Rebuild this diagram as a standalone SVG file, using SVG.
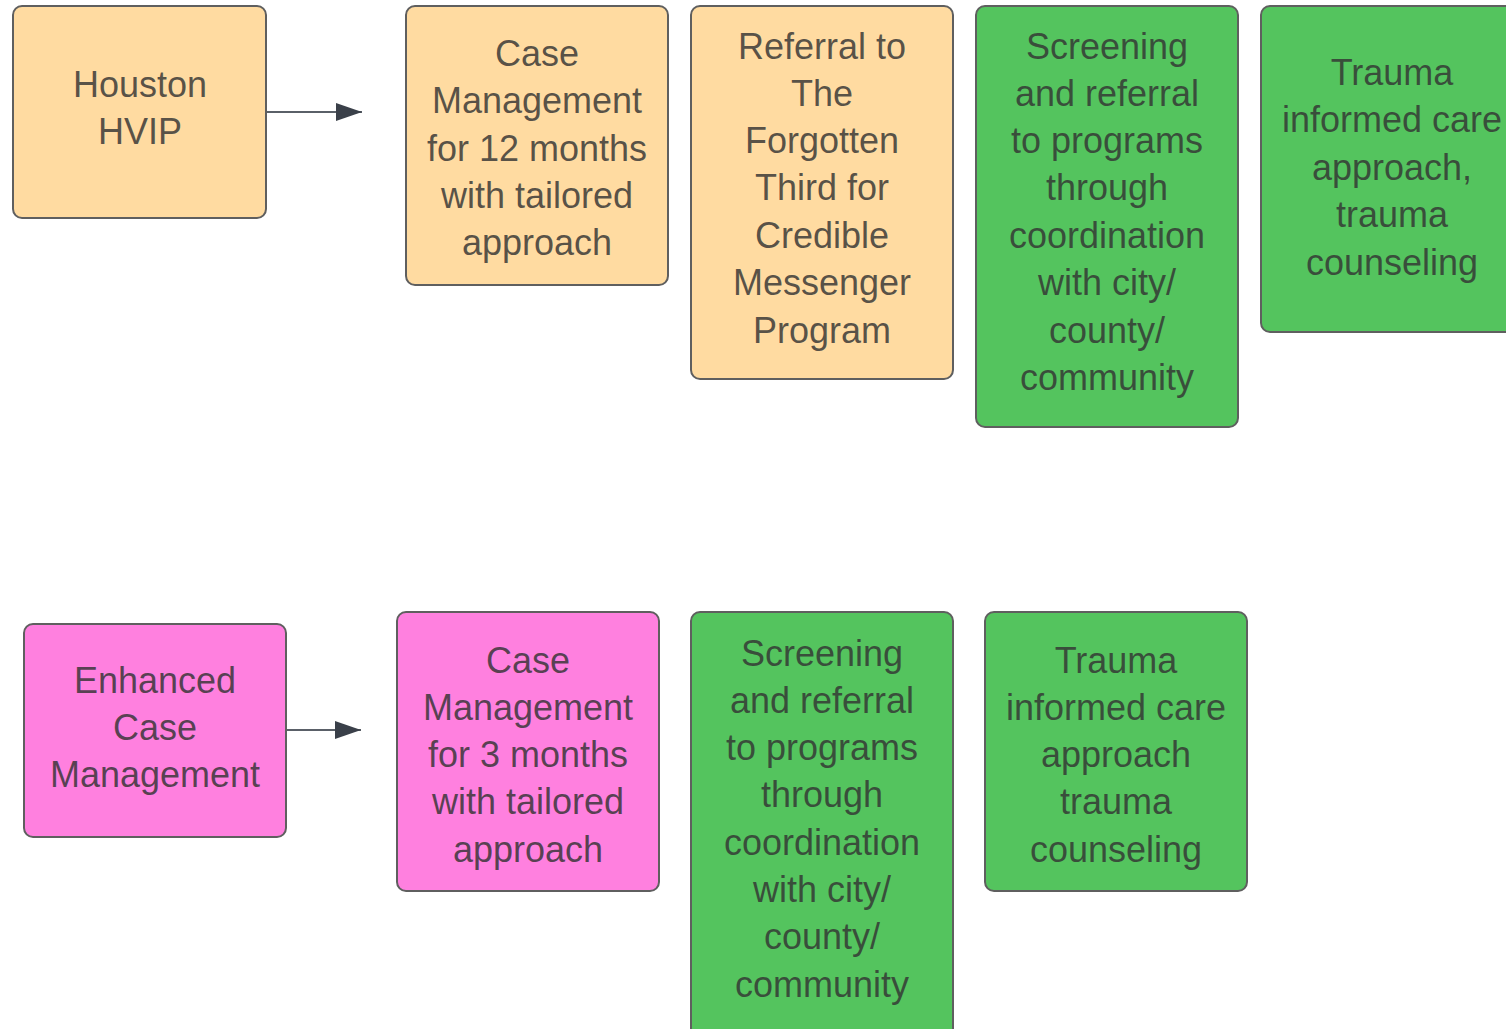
<svg xmlns="http://www.w3.org/2000/svg" width="1506" height="1029" viewBox="0 0 1506 1029">
<style>
.box{stroke:#5f5f5f;stroke-width:2}
.peach{fill:#FFDBA1}
.green{fill:#54C45E}
.pink{fill:#FF80DF}
text{font-family:"Liberation Sans",Arial,sans-serif;font-size:36px;text-anchor:middle;fill:#333333;fill-opacity:0.82}
.conn{stroke:#5a6068;stroke-width:2;fill:none}
</style>
<defs>
<marker id="arr" markerWidth="27" markerHeight="20" refX="26" refY="10" orient="auto" markerUnits="userSpaceOnUse">
<path d="M0,1 L26,10 L0,19 Z" fill="#3a4049"/>
</marker>
</defs>
<rect width="1506" height="1029" fill="#ffffff"/>
<g id="connectors">
<path class="conn" d="M266,112 H362" marker-end="url(#arr)"/>
<path class="conn" d="M286,730 H361" marker-end="url(#arr)"/>
</g>
<g id="houston">
<rect class="box peach" x="13" y="6" width="253" height="212" rx="9"/>
<text x="140" y="97">Houston</text>
<text x="140" y="144">HVIP</text>
</g>
<g id="cm12">
<rect class="box peach" x="406" y="6" width="262" height="279" rx="9"/>
<text x="537" y="66">Case</text>
<text x="537" y="113">Management</text>
<text x="537" y="161">for 12 months</text>
<text x="537" y="208">with tailored</text>
<text x="537" y="255">approach</text>
</g>
<g id="referral">
<rect class="box peach" x="691" y="6" width="262" height="373" rx="9"/>
<text x="822" y="59">Referral to</text>
<text x="822" y="106">The</text>
<text x="822" y="153">Forgotten</text>
<text x="822" y="200">Third for</text>
<text x="822" y="248">Credible</text>
<text x="822" y="295">Messenger</text>
<text x="822" y="343">Program</text>
</g>
<g id="screening1">
<rect class="box green" x="976" y="6" width="262" height="421" rx="9"/>
<text x="1107" y="59">Screening</text>
<text x="1107" y="106">and referral</text>
<text x="1107" y="153">to programs</text>
<text x="1107" y="200">through</text>
<text x="1107" y="248">coordination</text>
<text x="1107" y="295">with city/</text>
<text x="1107" y="343">county/</text>
<text x="1107" y="390">community</text>
</g>
<g id="trauma1">
<rect class="box green" x="1261" y="6" width="262" height="326" rx="9"/>
<text x="1392" y="85">Trauma</text>
<text x="1392" y="132">informed care</text>
<text x="1392" y="180">approach,</text>
<text x="1392" y="227">trauma</text>
<text x="1392" y="275">counseling</text>
</g>
<g id="enhanced">
<rect class="box pink" x="24" y="624" width="262" height="213" rx="9"/>
<text x="155" y="693">Enhanced</text>
<text x="155" y="740">Case</text>
<text x="155" y="787">Management</text>
</g>
<g id="cm3">
<rect class="box pink" x="397" y="612" width="262" height="279" rx="9"/>
<text x="528" y="673">Case</text>
<text x="528" y="720">Management</text>
<text x="528" y="767">for 3 months</text>
<text x="528" y="814">with tailored</text>
<text x="528" y="862">approach</text>
</g>
<g id="screening2">
<rect class="box green" x="691" y="612" width="262" height="425" rx="9"/>
<text x="822" y="666">Screening</text>
<text x="822" y="713">and referral</text>
<text x="822" y="760">to programs</text>
<text x="822" y="807">through</text>
<text x="822" y="855">coordination</text>
<text x="822" y="902">with city/</text>
<text x="822" y="949">county/</text>
<text x="822" y="997">community</text>
</g>
<g id="trauma2">
<rect class="box green" x="985" y="612" width="262" height="279" rx="9"/>
<text x="1116" y="673">Trauma</text>
<text x="1116" y="720">informed care</text>
<text x="1116" y="767">approach</text>
<text x="1116" y="814">trauma</text>
<text x="1116" y="862">counseling</text>
</g>
</svg>
